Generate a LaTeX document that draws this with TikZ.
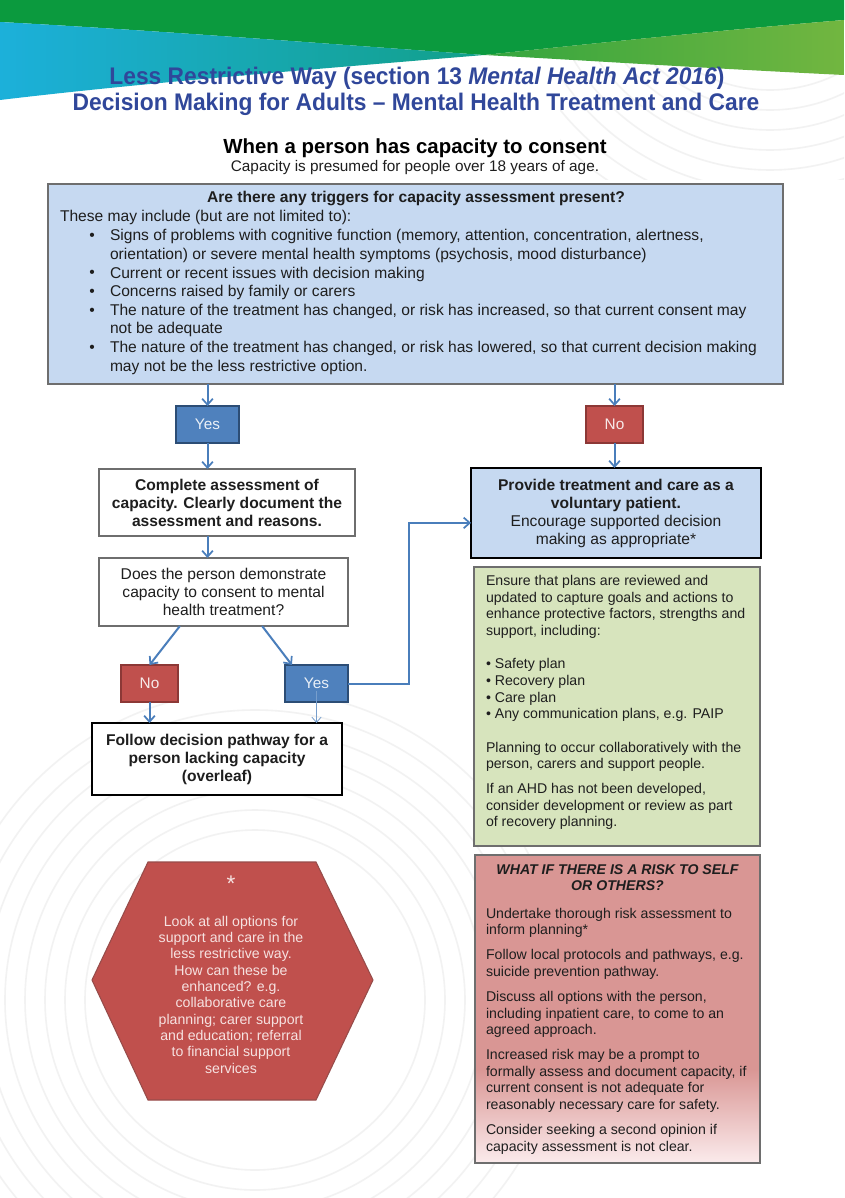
\documentclass[tikz,border=0pt]{standalone}
\usepackage{fontspec}
\usepackage{graphicx}
\setmainfont{Liberation Sans}
\usetikzlibrary{arrows.meta,calc}
\definecolor{hdgreen}{HTML}{0B9A3E}
\definecolor{hdlight}{HTML}{72B640}
\definecolor{hdcyan}{HTML}{1CB0DA}
\definecolor{hdteal}{HTML}{12A08A}
\definecolor{titleblue}{HTML}{30479A}
\definecolor{boxblue}{HTML}{C6D9F1}
\definecolor{arrowblue}{HTML}{4A7EBB}
\definecolor{yesfill}{HTML}{4F81BD}
\definecolor{yesdraw}{HTML}{2C4D75}
\definecolor{nofill}{HTML}{C0504D}
\definecolor{nodraw}{HTML}{8C3836}
\definecolor{greenfill}{HTML}{D7E4BD}
\definecolor{redfill}{HTML}{D99694}
\definecolor{redlight}{HTML}{FBEBEC}
\definecolor{boxgray}{HTML}{6E6E6E}
\definecolor{hextext}{HTML}{F6E2E1}
\definecolor{txtc}{HTML}{1E1E1E}
\definecolor{wmark}{HTML}{F2F2F2}
\begin{document}
\begin{tikzpicture}[x=0.75pt,y=-0.75pt,
  every node/.style={inner sep=0pt,outer sep=0pt,text=txtc},
  flow/.style={line width=1.5pt,draw=arrowblue,-{Straight Barb[length=4.5pt,width=8pt,line width=1.3pt]}},
  thinflow/.style={line width=0.6pt,draw=arrowblue!75,-{Straight Barb[length=4pt,width=7pt,line width=0.6pt]}},
  plainbox/.style={draw=boxgray,line width=0.8pt,fill=white},
  heavybox/.style={draw=black,line width=2.2pt},
  yesbox/.style={fill=yesfill,draw=yesdraw,line width=1.5pt,minimum width=47.25pt,minimum height=27.75pt,text=white!88!yesfill,font=\fontsize{11.5}{13}\selectfont},
  nobox/.style={fill=nofill,draw=nodraw,line width=1.5pt,minimum width=42.75pt,minimum height=27.75pt,text=white!88!nofill,font=\fontsize{11.5}{13}\selectfont},
  bodyfont/.style={font=\fontsize{11.7}{13.95}\selectfont},
  boldfont/.style={font=\fontsize{11.7}{13.5}\selectfont\bfseries},
  smallfont/.style={font=\fontsize{10.6}{12.5}\selectfont}
]
\useasboundingbox (0,0) rectangle (844,1198);
\fill[white] (0,0) rectangle (844,1198);

% watermark arcs
\begin{scope}
\clip (0,700) rectangle (844,1198);
\foreach \r in {170,190,...,310} \draw[wmark,line width=1.2pt] (255,1000) circle[radius=\r];
\end{scope}
\begin{scope}
\clip (560,40) rectangle (844,180);
\foreach \r in {150,170,...,290} \draw[wmark,line width=1.2pt] (770,-60) circle[radius=\r];
\end{scope}

% header
\fill[hdgreen] (0,0) -- (844,0) -- (844,20) .. controls (700,32) and (560,47) .. (484,55) .. controls (330,44) and (150,30) .. (0,22) -- cycle;
\shade[left color=hdcyan,right color=hdteal] (0,22) .. controls (150,30) and (330,44) .. (484,55) .. controls (330,68) and (150,82) .. (0,100) -- cycle;
\shade[left color=hdgreen!60!hdlight,right color=hdlight] (484,55) .. controls (560,47) and (700,32) .. (844,20) -- (844,75) .. controls (700,68) and (580,60) .. (484,55) -- cycle;

% titles
\node[text=titleblue,font=\fontsize{18}{19.5}\selectfont\bfseries] (title1) at (417,78) {\scalebox{0.95}[1]{Less Restrictive Way (section 13 \textit{Mental Health Act 2016})}};
\node[text=titleblue,font=\fontsize{18}{19.5}\selectfont\bfseries] (title2) at (416,104) {\scalebox{0.95}[1]{Decision Making for Adults -- Mental Health Treatment and Care}};
\node[font=\fontsize{15.3}{17}\selectfont\bfseries,text=black] (sub1) at (415,148) {When a person has capacity to consent};
\node[font=\fontsize{11.5}{13}\selectfont] (sub2) at (415,168) {Capacity is presumed for people over 18 years of age.};

% triggers box
\node[draw=boxgray,line width=0.9pt,fill=boxblue,minimum width=551.25pt,minimum height=150pt] (trig) at (415.5,284) {};
\node[boldfont] (trigt) at (416,199) {Are there any triggers for capacity assessment present?};
\node[bodyfont,anchor=west] (trigi) at (60,217) {These may include (but are not limited to):};
\node[bodyfont,anchor=west,align=left] (trigl) at (110,302) {Signs of problems with cognitive function (memory, attention, concentration, alertness,\\orientation) or severe mental health symptoms (psychosis, mood disturbance)\\Current or recent issues with decision making\\Concerns raised by family or carers\\The nature of the treatment has changed, or risk has increased, so that current consent may\\not be adequate\\The nature of the treatment has changed, or risk has lowered, so that current decision making\\may not be the less restrictive option.};
\foreach \yy [count=\i] in {237,274.2,292.8,311.4,348.6}
  \node[bodyfont] (bul\i) at (92,\yy) {\textbullet};

% decision boxes
\node[yesbox] (yes1) at (207.5,424.5) {Yes};
\node[nobox] (no1) at (614.5,424.5) {No};
\node[plainbox,minimum width=192pt,minimum height=50.25pt,boldfont,align=center] (complete) at (227,502.5) {Complete assessment of\\capacity. Clearly document the\\assessment and reasons.};
\node[plainbox,minimum width=186.75pt,minimum height=51pt,align=center,font=\fontsize{11.7}{13.3}\selectfont] (does) at (223.5,592) {Does the person demonstrate\\capacity to consent to mental\\health treatment?};
\node[nobox] (no2) at (149.5,683.5) {No};
\node[yesbox] (yes2) at (316.5,683.5) {Yes};
\node[heavybox,fill=white,minimum width=187.5pt,minimum height=54pt,boldfont,align=center] (follow) at (217,759) {Follow decision pathway for a\\person lacking capacity\\(overleaf)};
\node[heavybox,fill=boxblue,minimum width=217.5pt,minimum height=67.5pt,align=center,font=\fontsize{11.7}{13.5}\selectfont] (provide) at (616,513) {\textbf{Provide treatment and care as a}\\\textbf{voluntary patient.}\\Encourage supported decision\\making as appropriate*};

% green box
\node[draw=boxgray,line width=0.8pt,fill=greenfill,minimum width=214.5pt,minimum height=209.25pt] (green) at (617,706.5) {};
\node[smallfont,anchor=west,align=left] (greent) at (486,702.5) {Ensure that plans are reviewed and\\updated to capture goals and actions to\\enhance protective factors, strengths and\\support, including:\\[12.5pt]\textbullet\ Safety plan\\\textbullet\ Recovery plan\\\textbullet\ Care plan\\\textbullet\ Any communication plans, e.g. PAIP\\[12.5pt]Planning to occur collaboratively with the\\person, carers and support people.\\[6.2pt]If an AHD has not been developed,\\consider development or review as part\\of recovery planning.};

% red box
\fill[redfill] (475,855) rectangle (760,1070);
\shade[top color=redfill,bottom color=redlight] (475,1069) rectangle (760,1163);
\node[draw=boxgray,line width=0.8pt,minimum width=213.75pt,minimum height=231pt] (risk) at (617.5,1009) {};
\node[font=\fontsize{10.6}{12}\selectfont\bfseries\itshape,align=center] (riskt) at (617.5,878) {WHAT IF THERE IS A RISK TO SELF\\OR OTHERS?};
\node[smallfont,anchor=west,align=left] (riskb) at (486,1031) {Undertake thorough risk assessment to\\inform planning*\\[6.2pt]Follow local protocols and pathways, e.g.\\suicide prevention pathway.\\[6.2pt]Discuss all options with the person,\\including inpatient care, to come to an\\agreed approach.\\[6.2pt]Increased risk may be a prompt to\\formally assess and document capacity, if\\current consent is not adequate for\\reasonably necessary care for safety.\\[6.2pt]Consider seeking a second opinion if\\capacity assessment is not clear.};

% hexagon
\filldraw[fill=nofill,draw=nodraw!90,line width=0.8pt] (92,980) -- (148,862) -- (316,862) -- (373,980) -- (316,1100) -- (148,1100) -- cycle;
\node[text=hextext,font=\fontsize{17}{17}\selectfont] (star) at (231,884) {*};
\node[text=hextext,font=\fontsize{10.6}{12.25}\selectfont,align=center] (hext) at (231,994.5) {Look at all options for\\support and care in the\\less restrictive way.\\How can these be\\enhanced? e.g.\\collaborative care\\planning; carer support\\and education; referral\\to financial support\\services};

% connectors
\draw[flow] (yes1.north |- trig.south) -- (yes1.north);
\draw[flow] (yes1.south) -- (yes1.south |- complete.north);
\draw[flow] (no1.north |- trig.south) -- (no1.north);
\draw[flow] (no1.south) -- (no1.south |- provide.north);
\draw[flow] (yes1.south |- complete.south) -- (yes1.south |- does.north);
\draw[flow] ($(does.south west)!0.325!(does.south east)$) -- (no2.north);
\draw[flow] ($(does.south west)!0.655!(does.south east)$) -- ($(yes2.north west)!0.11!(yes2.north east)$);
\draw[flow] (no2.south) -- (no2.south |- follow.north);
\draw[thinflow] ($(yes2.center)+(0,7)$) -- (yes2.center |- follow.north);
\draw[flow] (yes2.east) -- ($(yes2.east)+(61,0)$) |- ($(provide.south west)!0.39!(provide.north west)$);
\end{tikzpicture}
\end{document}
